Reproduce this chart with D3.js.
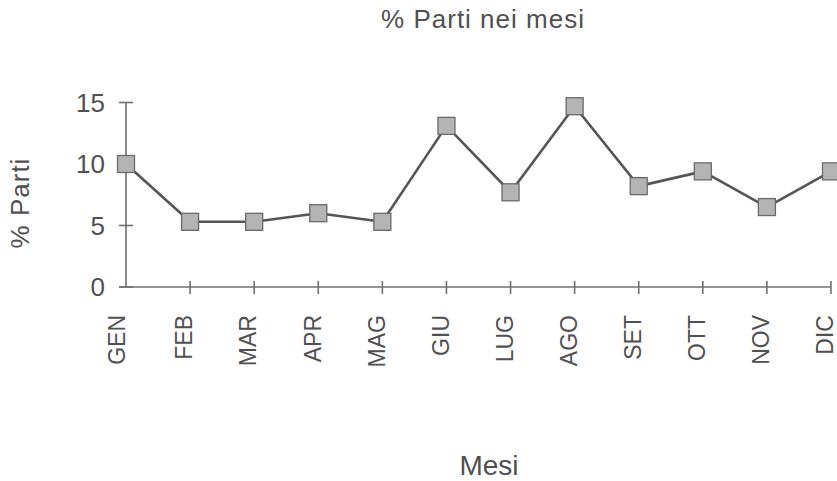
<!DOCTYPE html>
<html>
<head>
<meta charset="utf-8">
<script src="https://cdn.jsdelivr.net/npm/d3@7"></script>
<style>
  html, body { margin: 0; padding: 0; background: #fff; }
  svg { display: block; }
  text { font-family: "Liberation Sans", Arial, Helvetica, sans-serif; fill: #505050; }
</style>
</head>
<body>
<svg id="chart" width="837" height="481"></svg>
<script>
// Monthly share of births (%)
const months = ["GEN", "FEB", "MAR", "APR", "MAG", "GIU", "LUG", "AGO", "SET", "OTT", "NOV", "DIC"];
const values = [10.0, 5.3, 5.3, 6.0, 5.3, 13.1, 7.7, 14.7, 8.2, 9.4, 6.5, 9.4];
const yTicks = [0, 5, 10, 15];

const chartTitle = "% Parti nei mesi";
const xTitle = "Mesi";
const yTitle = "% Parti";

const svg = d3.select("#chart");

const x = d3.scalePoint().domain(months).range([126, 831]);
const y = d3.scaleLinear().domain([0, 15]).range([287, 102.5]);

const axisColor = "#707070";

// y axis: line with ticks crossing it
const yAxis = svg.append("g").attr("transform", `translate(${x(months[0])},0)`);
yAxis.append("line")
  .attr("y1", y(15)).attr("y2", y(0))
  .attr("stroke", axisColor).attr("stroke-width", 1.6);
yAxis.selectAll("line.tick").data(yTicks).join("line")
  .attr("class", "tick")
  .attr("x1", -7).attr("x2", 7)
  .attr("y1", d => y(d)).attr("y2", d => y(d))
  .attr("stroke", axisColor).attr("stroke-width", 1.6);
yAxis.selectAll("text").data(yTicks).join("text")
  .attr("x", -21).attr("y", d => y(d))
  .attr("dy", "0.36em")
  .attr("text-anchor", "end")
  .attr("font-size", 26)
  .text(d => d);

// x axis: baseline with ticks crossing it
const xAxis = svg.append("g").attr("transform", `translate(0,${y(0)})`);
xAxis.append("line")
  .attr("x1", x(months[0]) - 7).attr("x2", x(months[months.length - 1]))
  .attr("stroke", axisColor).attr("stroke-width", 1.6);
xAxis.selectAll("line.tick").data(months.slice(1)).join("line")
  .attr("class", "tick")
  .attr("x1", d => x(d)).attr("x2", d => x(d))
  .attr("y1", -6).attr("y2", 7)
  .attr("stroke", axisColor).attr("stroke-width", 1.6);
xAxis.selectAll("text").data(months).join("text")
  .attr("transform", (d, i) => `translate(${x(d) - (i === 0 ? 9 : 6)},28) rotate(-90)`)
  .attr("dy", "0.36em")
  .attr("text-anchor", "end")
  .attr("font-size", 23)
  .text(d => d);

// series line
const line = d3.line()
  .x((d, i) => x(months[i]))
  .y(d => y(d));
svg.append("path")
  .datum(values)
  .attr("d", line)
  .attr("fill", "none")
  .attr("stroke", "#555")
  .attr("stroke-width", 2.6)
  .attr("stroke-linejoin", "round");

// square markers
const size = 17;
svg.selectAll("rect.marker").data(values).join("rect")
  .attr("class", "marker")
  .attr("x", (d, i) => x(months[i]) - size / 2)
  .attr("y", d => y(d) - size / 2)
  .attr("width", size).attr("height", size)
  .attr("fill", "#b4b4b4")
  .attr("stroke", "#6a6a6a")
  .attr("stroke-width", 1.3);

// titles
svg.append("text")
  .attr("x", 483).attr("y", 28)
  .attr("text-anchor", "middle")
  .attr("font-size", 26)
  .attr("letter-spacing", 1)
  .text(chartTitle);

svg.append("text")
  .attr("transform", "translate(29,203) rotate(-90)")
  .attr("text-anchor", "middle")
  .attr("font-size", 26)
  .attr("letter-spacing", 1)
  .text(yTitle);

svg.append("text")
  .attr("x", 489).attr("y", 475)
  .attr("text-anchor", "middle")
  .attr("font-size", 28)
  .text(xTitle);
</script>
</body>
</html>
